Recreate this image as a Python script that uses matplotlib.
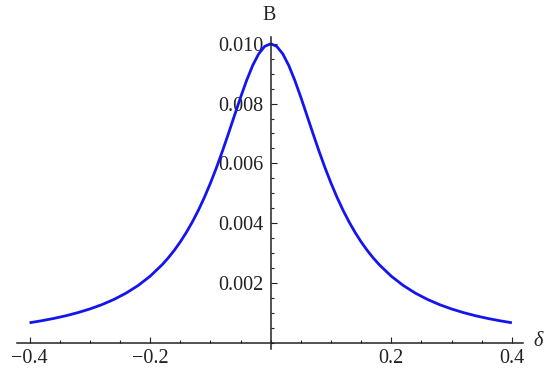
import matplotlib
matplotlib.use("Agg")
import matplotlib.pyplot as plt
from matplotlib.ticker import MultipleLocator, FixedLocator, FixedFormatter

# Data
delta = [-0.40, -0.38, -0.36, -0.34, -0.32, -0.30, -0.28, -0.26, -0.24, -0.22,
         -0.20, -0.18, -0.17, -0.16, -0.15, -0.14, -0.13, -0.12, -0.11, -0.10,
         -0.09, -0.08, -0.07, -0.06, -0.05, -0.04, -0.03, -0.02, -0.01,
         0.00, 0.01, 0.02, 0.03, 0.04, 0.05, 0.06, 0.07, 0.08, 0.09,
         0.10, 0.11, 0.12, 0.13, 0.14, 0.15, 0.16, 0.17, 0.18,
         0.20, 0.22, 0.24, 0.26, 0.28, 0.30, 0.32, 0.34, 0.36, 0.38, 0.40]
B = [0.000668, 0.000735, 0.000812, 0.000901, 0.001006, 0.001129, 0.001274, 0.001448,
     0.001658, 0.001913, 0.002225, 0.002611, 0.002837, 0.003090, 0.003372, 0.003688,
     0.004039, 0.004430, 0.004862, 0.005338, 0.005856, 0.006414, 0.007003, 0.007608,
     0.008208, 0.008774, 0.009271, 0.009662, 0.009913,
     0.010000, 0.009913, 0.009662, 0.009271, 0.008774, 0.008208, 0.007608, 0.007003,
     0.006414, 0.005856, 0.005338, 0.004862, 0.004430, 0.004039, 0.003688, 0.003372,
     0.003090, 0.002837, 0.002611,
     0.002225, 0.001913, 0.001658, 0.001448, 0.001274, 0.001129, 0.001006, 0.000901,
     0.000812, 0.000735, 0.000668]

x_ticks = [-0.4, -0.2, 0.2, 0.4]
x_tick_labels = ["\u22120.4", "\u22120.2", "0.2", "0.4"]
y_ticks = [0.002, 0.004, 0.006, 0.008, 0.010]
y_tick_labels = ["0.002", "0.004", "0.006", "0.008", "0.010"]

plt.rcParams['font.family'] = ['Liberation Serif', 'DejaVu Serif']
fs = 14.5

fig = plt.figure(figsize=(5.5, 3.76), dpi=100)
ax = fig.add_axes([0.03145, 0.0710, 0.9189, 0.8306])

ax.plot(delta, B, color='#1414f0', lw=2.0, solid_capstyle='butt', solid_joinstyle='round')

ax.set_xlim(-0.4203, 0.4179)
ax.set_ylim(-0.00022, 0.010227)

for s in ['top', 'right']:
    ax.spines[s].set_visible(False)
ax.spines['left'].set_position(('data', 0))
ax.spines['bottom'].set_position(('data', 0))
for s in ['left', 'bottom']:
    ax.spines[s].set_linewidth(1.1)
    ax.spines[s].set_color('#222222')

ax.xaxis.set_major_locator(FixedLocator(x_ticks))
ax.xaxis.set_major_formatter(FixedFormatter(x_tick_labels))
ax.xaxis.set_minor_locator(MultipleLocator(0.05))
ax.yaxis.set_major_locator(FixedLocator(y_ticks))
ax.yaxis.set_major_formatter(FixedFormatter(y_tick_labels))
ax.yaxis.set_minor_locator(MultipleLocator(0.0005))

ax.tick_params(axis='both', which='major', direction='in', length=4.6, width=0.8,
               color='#222222', labelsize=fs, labelcolor='#222222')
ax.tick_params(axis='both', which='minor', direction='in', length=2.4, width=0.8,
               color='#222222')
ax.tick_params(axis='x', which='major', pad=4.5)
ax.tick_params(axis='y', which='major', pad=5)

fig.text(269.3 / 550, 1 - 16 / 376, "B", fontsize=fs, ha='center', va='center', color='#222222')
fig.text(538.3 / 550, 1 - 341.7 / 376, "\u03b4", fontsize=fs, ha='center', va='center',
         style='italic', color='#222222')

fig.savefig("out.png", dpi=100)
